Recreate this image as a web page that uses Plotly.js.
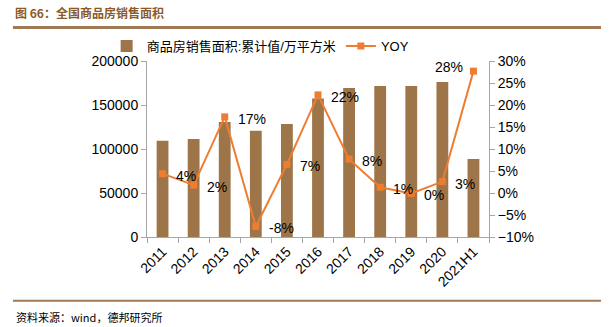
<!DOCTYPE html>
<html>
<head>
<meta charset="utf-8">
<script src="https://cdn.plot.ly/plotly-3.0.1.min.js"></script>
<style>html,body{margin:0;padding:0;background:#fff;}#chart{width:614px;height:327px;}</style>
</head>
<body>
<div id="chart"></div>
<script>
const categories = ["2011","2012","2013","2014","2015","2016","2017","2018","2019","2020","2021H1"];
const salesArea = [109367,111304,130551,120649,128495,157349,169408,171654,171558,176086,88635];
const yoy = [4.4,1.8,17.3,-7.6,6.5,22.3,7.7,1.3,-0.1,2.6,27.7];
const yoyLabels = yoy.map(v => { const r = Math.round(v); return (r === 0 ? 0 : r) + "%"; });

const FONT = "Liberation Sans, Noto Sans CJK SC, sans-serif";
const brown = "#9E7549";
const orange = "#ED7D31";
const axisGray = "#A6A6A6";

const traces = [
  {
    type: "bar", x: categories, y: salesArea, name: "商品房销售面积:累计值/万平方米",
    marker: {color: brown}, width: 0.38, yaxis: "y"
  },
  {
    type: "scatter", mode: "lines+markers", x: categories, y: yoy, name: "YOY",
    yaxis: "y2", line: {color: orange, width: 2},
    marker: {color: orange, symbol: "square", size: 7}
  }
];

// category axis: annotation x given as the category index
const labelAnnotations = categories.map((c, i) => {
  const last = i === categories.length - 1;
  return {
    x: i, y: yoy[i], xref: "x", yref: "y2", text: yoyLabels[i], showarrow: false,
    xanchor: last ? "right" : "left", yanchor: "middle",
    xshift: last ? -8 : 11, yshift: last ? 4 : -2,
    font: {family: FONT, size: 14, color: "#000"}
  };
});

const layout = {
  width: 614, height: 327,
  margin: {l: 147, r: 125, t: 61, b: 90},
  paper_bgcolor: "#fff", plot_bgcolor: "#fff",
  font: {family: FONT, size: 14, color: "#000"},
  showlegend: true,
  legend: {orientation: "h", x: -0.118, y: 1.085, xanchor: "left", yanchor: "middle",
           font: {family: FONT, size: 13, color: "#000"}, bgcolor: "rgba(0,0,0,0)", itemwidth: 30},
  xaxis: {
    type: "category", range: [-0.5, 10.5], tickangle: -45, showgrid: false,
    showline: true, linecolor: axisGray, linewidth: 1,
    ticks: "outside", tickson: "boundaries", ticklen: 5, tickcolor: axisGray,
    tickfont: {family: FONT, size: 14, color: "#000"}
  },
  yaxis: {
    range: [0, 200000], dtick: 50000, showgrid: false, zeroline: false,
    showline: true, linecolor: axisGray, linewidth: 1,
    ticks: "outside", ticklen: 5, tickcolor: axisGray, tickformat: "d",
    tickfont: {family: FONT, size: 14, color: "#000"}
  },
  yaxis2: {
    overlaying: "y", side: "right", range: [-10, 30], dtick: 5, ticksuffix: "%",
    showgrid: false, zeroline: false, showline: true, linecolor: axisGray, linewidth: 1,
    ticks: "outside", ticklen: 5, tickcolor: axisGray,
    tickfont: {family: FONT, size: 14, color: "#000"}
  },
  shapes: [
    {type: "line", xref: "paper", yref: "paper", x0: -0.392, x1: 1.3275, y0: 1.19, y1: 1.19,
     line: {color: "#A07A55", width: 3}},
    {type: "line", xref: "paper", yref: "paper", x0: -0.392, x1: 1.3275, y0: -0.362, y1: -0.362,
     line: {color: "#A07A55", width: 2}}
  ],
  annotations: labelAnnotations.concat([
    {xref: "paper", yref: "paper", x: -0.392, y: 1.275, xanchor: "left", yanchor: "middle",
     text: "<b>图 66：全国商品房销售面积</b>", showarrow: false,
     font: {family: "Noto Sans CJK SC, sans-serif", size: 12, color: "#8B5A2B"}},
    {xref: "paper", yref: "paper", x: -0.388, y: -0.455, xanchor: "left", yanchor: "middle",
     text: "资料来源：wind，德邦研究所", showarrow: false,
     font: {family: "Noto Sans CJK SC, sans-serif", size: 11, color: "#000"}}
  ])
};

Plotly.newPlot("chart", traces, layout, {displayModeBar: false, staticPlot: true});
</script>
</body>
</html>
